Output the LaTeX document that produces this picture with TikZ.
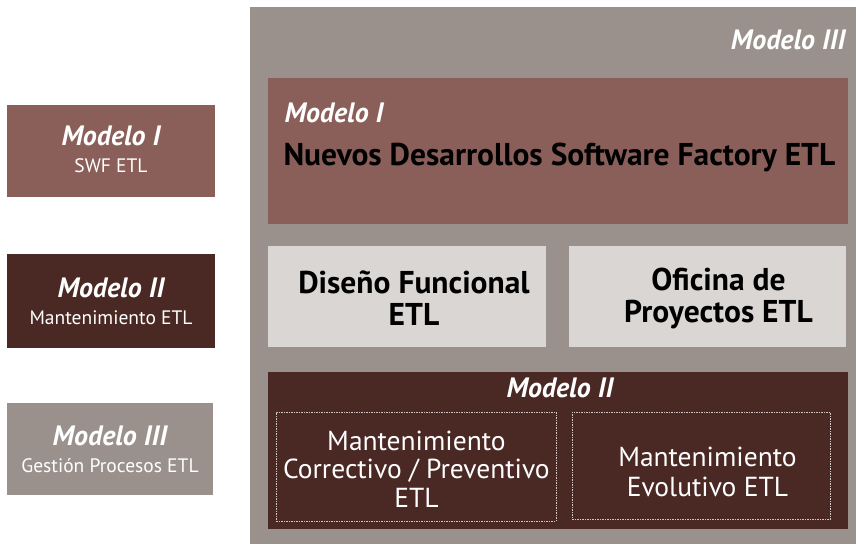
\documentclass[tikz,border=0pt]{standalone}
\usepackage{fontspec}
\setmainfont{PT Sans}
\definecolor{gr}{HTML}{9A918D}
\definecolor{rose}{HTML}{8B5F59}
\definecolor{dark}{HTML}{4A2824}
\definecolor{lite}{HTML}{DAD6D4}
\definecolor{dash}{HTML}{CFC7C4}
\begin{document}
\begin{tikzpicture}[x=1pt,y=-1pt,
  box/.style={anchor=north west,inner sep=0pt,outer sep=0pt},
  title/.style={text=white,font=\fontsize{28}{30}\selectfont\bfseries\itshape},
  side/.style={text=white,align=center,font=\fontsize{19.5}{27}\selectfont},
  lbl/.style={align=center,font=\fontsize{31.5}{32}\selectfont\bfseries},
  mant/.style={text=white,align=center,font=\fontsize{27.5}{28.5}\selectfont},
  dbox/.style={draw=dash,dash pattern=on 1.5pt off 1pt,line width=0.8pt,anchor=north west,inner sep=0pt}]
\useasboundingbox (0,0) rectangle (856,544);
\fill[white] (0,0) rectangle (856,544);
% left legend
\node[box,fill=rose,minimum width=208,minimum height=92] (l1) at (7,105) {};
\node[side] (l1t) at ([yshift=2]l1.center) {{\fontsize{28}{28}\selectfont\bfseries\itshape Modelo I}\\SWF ETL};
\node[box,fill=dark,minimum width=208,minimum height=94] (l2) at (7,254) {};
\node[side] (l2t) at (l2.center) {{\fontsize{28}{28}\selectfont\bfseries\itshape Modelo II}\\Mantenimiento ETL};
\node[box,fill=gr,minimum width=206,minimum height=92] (l3) at (7,403) {};
\node[side] (l3t) at (l3.center) {{\fontsize{28}{28}\selectfont\bfseries\itshape Modelo III}\\Gestión Procesos ETL};
% big Modelo III
\node[box,fill=gr,minimum width=606,minimum height=537] (m3) at (250,7) {};
\node[title,anchor=east] (m3t) at (849,40) {Modelo III};
% Modelo I
\node[box,fill=rose,minimum width=580,minimum height=146] (m1) at (268,78) {};
\node[title,anchor=west] (m1t) at (281,113) {Modelo I};
\node[anchor=west,font=\fontsize{31.5}{34}\selectfont\bfseries] (m1d) at (280,157) {Nuevos Desarrollos Software Factory ETL};
% middle boxes
\node[box,fill=lite,minimum width=278,minimum height=101] (df) at (268,246) {};
\node[lbl] (dft) at ([xshift=7,yshift=-2]df.center) {Diseño Funcional\\ETL};
\node[box,fill=lite,minimum width=277,minimum height=101] (of) at (569,246) {};
\node[lbl] (oft) at ([xshift=11,yshift=-2]of.center) {Oficina de\\Proyectos ETL};
% Modelo II
\node[box,fill=dark,minimum width=580,minimum height=157] (m2) at (268,372) {};
\node[title] (m2t) at (560,388) {Modelo II};
\node[dbox,minimum width=280,minimum height=109] (c1) at (276,412) {};
\node[mant] (c1t) at ([yshift=-2]c1.center) {Mantenimiento\\Correctivo / Preventivo\\ETL};
\node[dbox,minimum width=258,minimum height=107] (c2) at (572,412) {};
\node[mant,font=\fontsize{27.5}{29.5}\selectfont] (c2t) at ([xshift=6,yshift=-6]c2.center) {Mantenimiento\\Evolutivo ETL};
\end{tikzpicture}
\end{document}
